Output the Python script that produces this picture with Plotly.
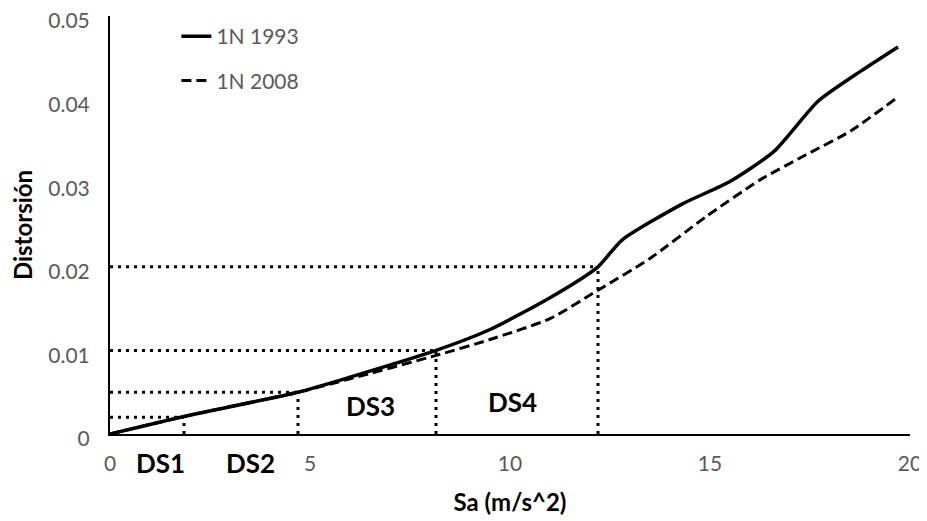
import plotly.graph_objects as go

# curve data
sa_1993 = [0, 1.85, 4.7, 6.0, 8.15, 9.5, 11.0, 12.2, 12.8, 14.3, 15.5, 16.6, 17.7, 18.8, 19.7]
dr_1993 = [0, 0.0021, 0.005, 0.0068, 0.01, 0.0125, 0.0163, 0.02, 0.0232, 0.0275, 0.0302, 0.0338, 0.0398, 0.0435, 0.0463]

sa_2008 = [0, 1.85, 4.7, 6.0, 8.15, 9.5, 11.0, 12.2, 13.5, 14.9, 16.25, 17.4, 18.5, 19.7]
dr_2008 = [0, 0.0021, 0.005, 0.0066, 0.0094, 0.0113, 0.0138, 0.0172, 0.021, 0.026, 0.0304, 0.0334, 0.0362, 0.0403]

# damage state limits
ds_drift = [0.002, 0.005, 0.01, 0.02]
ds_sa = [1.85, 4.7, 8.15, 12.2]
ds_labels = ["DS1", "DS2", "DS3", "DS4"]
ds_label_x = [1.25, 3.5, 6.5, 10.05]
ds_label_y = [-0.0035, -0.0035, 0.0033, 0.0038]

x_ticks = [0, 5, 10, 15, 20]
y_ticks = [0, 0.01, 0.02, 0.03, 0.04, 0.05]
y_max = 0.05

fig = go.Figure()

# dotted guide lines
gx, gy = [], []
for s, d in zip(ds_sa, ds_drift):
    gx += [0, s, None, s, s, None]
    gy += [d, d, None, 0, d, None]
fig.add_trace(go.Scatter(x=gx, y=gy, mode="lines", showlegend=False, hoverinfo="skip",
                         line=dict(color="black", width=3, dash="3px,5px")))

fig.add_trace(go.Scatter(x=sa_1993, y=dr_1993, mode="lines", name="1N 1993", legendgroup="a",
                         line=dict(color="black", width=3.5, shape="spline", smoothing=0.6)))
fig.add_trace(go.Scatter(x=sa_2008, y=dr_2008, mode="lines", name="1N 2008", legendgroup="b",
                         line=dict(color="black", width=3, dash="10px,5px", shape="spline", smoothing=0.6)))

# DS labels (paper y so the ones below the axis are not hidden)
for t, x, y in zip(ds_labels, ds_label_x, ds_label_y):
    fig.add_annotation(x=x, y=y / y_max, yref="paper", yanchor="middle", text="<b>" + t + "</b>",
                       showarrow=False, font=dict(family="Lato", size=26, color="black"))

# the page body adds an 8px margin, so the figure is 8px smaller than the window
fig.update_layout(
    width=919, height=513,
    margin=dict(l=102, r=17, t=8, b=87),
    paper_bgcolor="white", plot_bgcolor="white",
    font=dict(family="Lato", size=21, color="#595959"),
    legend=dict(x=0.083, y=1.0, xanchor="left", yanchor="top", bgcolor="rgba(0,0,0,0)",
                tracegroupgap=14, font=dict(size=21, color="#595959")),
    xaxis=dict(range=[0, 20], tickvals=x_ticks, showgrid=False, zeroline=False,
               showline=True, linecolor="black", linewidth=2, ticks="", automargin=False,
               ticklabelstandoff=10, ticklabeloverflow="allow",
               title=dict(text="<b>Sa (m/s^2)</b>", font=dict(size=24, color="black"), standoff=20)),
    yaxis=dict(range=[0, y_max], tickvals=y_ticks, showgrid=False, zeroline=False,
               showline=True, linecolor="black", linewidth=2, ticks="", automargin=False,
               ticklabelstandoff=14, ticklabelshift=5, ticklabeloverflow="allow",
               title=dict(text="<b>Distorsión</b>", font=dict(size=24, color="black"), standoff=16)),
)

fig.write_html("out.html")
